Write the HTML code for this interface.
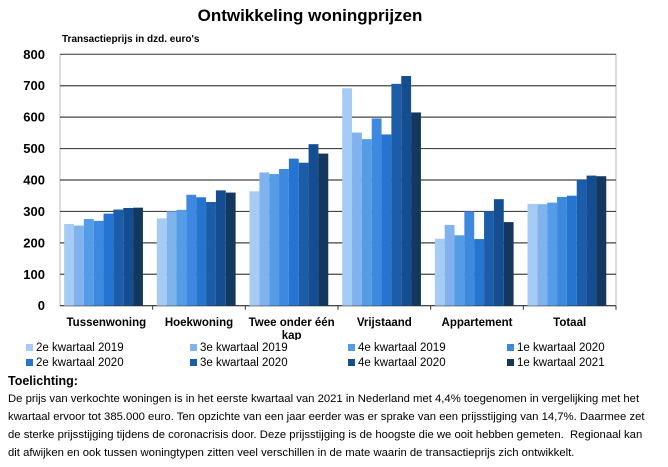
<!DOCTYPE html>
<html><head><meta charset="utf-8"><style>
body{margin:0;width:668px;height:467px;background:#fff;font-family:"Liberation Sans",sans-serif;overflow:hidden;position:relative}
.t{position:absolute;white-space:nowrap}
</style></head><body>
<div class="t" style="left:0;width:620px;text-align:center;top:6px;font-size:17px;font-weight:bold">Ontwikkeling woningprijzen</div>
<div class="t" style="left:62px;top:34px;font-size:10px;font-weight:bold">Transactieprijs in dzd. euro's</div>
<svg id="c" width="668" height="340" style="position:absolute;left:0;top:0"></svg>
<div id="legend"></div>
<div class="t" style="left:8px;top:374px;font-size:12.5px;font-weight:bold">Toelichting:</div>
<div style="position:absolute;left:8px;top:390px;width:660px;font-size:11.3px;line-height:18px;white-space:nowrap">De prijs van verkochte woningen is in het eerste kwartaal van 2021 in Nederland met 4,4% toegenomen in vergelijking met het<br>kwartaal ervoor tot 385.000 euro. Ten opzichte van een jaar eerder was er sprake van een prijsstijging van 14,7%. Daarmee zet<br>de sterke prijsstijging tijdens de coronacrisis door. Deze prijsstijging is de hoogste die we ooit hebben gemeten.&nbsp; Regionaal kan<br>dit afwijken en ook tussen woningtypen zitten veel verschillen in de mate waarin de transactieprijs zich ontwikkelt.</div>
<script>
const categories=["Tussenwoning","Hoekwoning","Twee onder één kap","Vrijstaand","Appartement","Totaal"];
const seriesNames=["2e kwartaal 2019","3e kwartaal 2019","4e kwartaal 2019","1e kwartaal 2020","2e kwartaal 2020","3e kwartaal 2020","4e kwartaal 2020","1e kwartaal 2021"];
const s1=[260,278,364,692,213,324];
const s2=[255,300,424,551,257,323];
const s3=[276,305,419,530,224,328];
const s4=[270,353,435,596,300,346];
const s5=[293,345,468,545,212,350];
const s6=[306,330,455,706,300,400];
const s7=[311,367,514,731,339,414];
const s8=[312,360,484,615,266,412];
const series=[s1,s2,s3,s4,s5,s6,s7,s8];
const yTicks=[0,100,200,300,400,500,600,700,800];
const colors=["#a6cbf4","#80b3ee","#559ce6","#3e89df","#2474d0","#1c5daa","#144e90","#13375f"];
const svg=document.getElementById('c'),NS="http://www.w3.org/2000/svg";
const x0=60,x1=616,y0=305.7,yTop=54.3;
const y=v=>y0-(v/800)*(y0-yTop);
const gw=(x1-x0)/categories.length;
function el(t,a){const e=document.createElementNS(NS,t);for(const k in a)e.setAttribute(k,a[k]);svg.appendChild(e);return e;}
const frame=el('rect',{x:x0,y:yTop,width:x1-x0,height:y0-yTop,fill:'none',stroke:'#bbb'});


yTicks.forEach(v=>{
 const l=el('line',{x1:x0,x2:x1,y1:y(v),y2:y(v),stroke:v==0?'#333':'#444','stroke-width':v==800?1:1.2});
 
 
 const t=el('text',{x:45,y:y(v)+4.5,'text-anchor':'end','font-size':13,'font-weight':'bold'});
 t.textContent=v;
 
 
});
const bw=gw*0.85/8;
categories.forEach((c,i)=>{
 const gx=x0+i*gw+gw*0.045;
 series.forEach((s,j)=>{
  const r=el('rect',{x:gx+j*bw,y:y(s[i]),width:bw,height:y0-y(s[i]),fill:colors[j]});
  
  
 });
 const tk=el('line',{x1:x0+(i+1)*gw,x2:x0+(i+1)*gw,y1:y0,y2:y0+4,stroke:'#333'});
 
 
 const lines=c=="Twee onder één kap"?["Twee onder één","kap"]:[c];
 lines.forEach((ln,k)=>{
  const t=el('text',{x:x0+i*gw+gw/2,y:326+k*13,'text-anchor':'middle','font-size':11.5,'font-weight':'bold'});
  t.textContent=ln;
  
  
 });
});
const lg=document.getElementById('legend');
const cx=[26,190,348,507];
seriesNames.forEach((n,j)=>{
 const d=document.createElement('div');
 d.className='t';
 d.style.cssText='left:'+cx[j%4]+'px;top:'+(342+Math.floor(j/4)*15)+'px;font-size:11.5px';
 d.innerHTML='<span style="display:inline-block;width:7px;height:7px;background:'+colors[j]+';margin-right:3px"></span>'+n;
 
 
 lg.appendChild(d);
});
</script>
</body></html>
